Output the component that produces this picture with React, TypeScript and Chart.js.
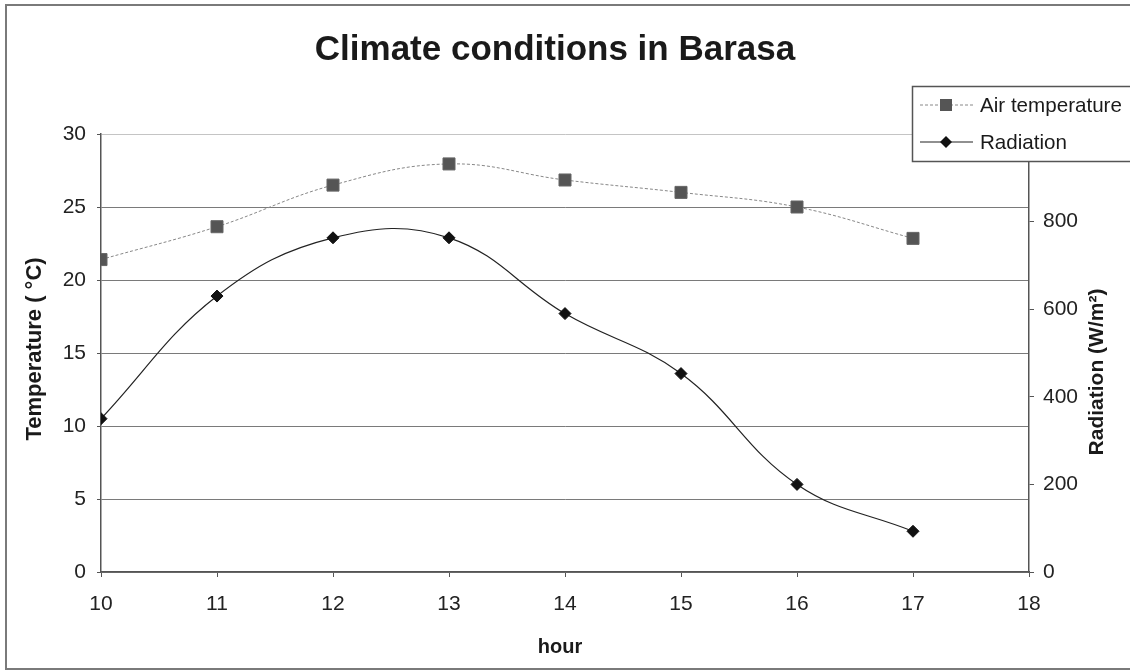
import React, { useEffect, useRef } from 'react';
import { Chart, registerables } from 'chart.js';

Chart.register(...registerables);

const hours = [10, 11, 12, 13, 14, 15, 16, 17];
const airTemperature = [21.4, 23.65, 26.5, 27.95, 26.85, 26.0, 25.0, 22.85];
const radiation = [350, 630, 763, 763, 590, 453, 200, 93];

const titleText = 'Climate conditions in Barasa';
const xTitle = 'hour';
const yLeftTitle = 'Temperature ( °C)';
const yRightTitle = 'Radiation (W/m²)';
const seriesNames = ['Air temperature', 'Radiation'];

const FONT = "'Liberation Sans', Arial, Helvetica, sans-serif";

const decorPlugin = {
  id: 'decor',
  beforeDraw(chart: any) {
    const ctx = chart.ctx;
    ctx.save();
    ctx.fillStyle = '#ffffff';
    ctx.fillRect(0, 0, chart.width, chart.height);
    ctx.strokeStyle = '#7a7a7a';
    ctx.lineWidth = 2;
    ctx.strokeRect(6, 5, chart.width + 10, 664);
    ctx.restore();
  },
  afterDraw(chart: any) {
    const ctx = chart.ctx;
    ctx.save();
    ctx.fillStyle = '#1a1a1a';
    ctx.textAlign = 'center';
    ctx.textBaseline = 'middle';
    // Title
    ctx.font = `bold 35px ${FONT}`;
    ctx.fillText(titleText, 555, 50);
    // x title
    ctx.font = `bold 20px ${FONT}`;
    ctx.fillText(xTitle, 560, 647);
    // left y title
    ctx.save();
    ctx.translate(35, 349);
    ctx.rotate(-Math.PI / 2);
    ctx.font = `bold 22px ${FONT}`;
    ctx.fillText(yLeftTitle, 0, 0);
    ctx.restore();
    // right y title
    ctx.save();
    ctx.translate(1097, 372);
    ctx.rotate(-Math.PI / 2);
    ctx.font = `bold 21px ${FONT}`;
    ctx.fillText(yRightTitle, 0, 0);
    ctx.restore();

    // Legend
    const bx = 912, by = 86, bw = 240, bh = 75;
    ctx.fillStyle = '#ffffff';
    ctx.fillRect(bx, by, bw, bh);
    ctx.strokeStyle = '#555';
    ctx.lineWidth = 1.5;
    ctx.strokeRect(bx + 0.5, by + 0.5, bw, bh);
    const rows = [105, 142];
    // row 1: air temperature
    ctx.strokeStyle = '#888';
    ctx.lineWidth = 1;
    ctx.setLineDash([3, 2]);
    ctx.beginPath();
    ctx.moveTo(920, rows[0]);
    ctx.lineTo(973, rows[0]);
    ctx.stroke();
    ctx.setLineDash([]);
    ctx.fillStyle = '#555';
    ctx.fillRect(940, rows[0] - 6, 12, 12);
    // row 2: radiation
    ctx.strokeStyle = '#222';
    ctx.lineWidth = 1.2;
    ctx.beginPath();
    ctx.moveTo(920, rows[1]);
    ctx.lineTo(973, rows[1]);
    ctx.stroke();
    ctx.fillStyle = '#111';
    ctx.beginPath();
    ctx.moveTo(946, rows[1] - 6);
    ctx.lineTo(952, rows[1]);
    ctx.lineTo(946, rows[1] + 6);
    ctx.lineTo(940, rows[1]);
    ctx.closePath();
    ctx.fill();
    ctx.fillStyle = '#1a1a1a';
    ctx.font = `20.6px ${FONT}`;
    ctx.textAlign = 'left';
    ctx.textBaseline = 'middle';
    ctx.fillText(seriesNames[0], 980, rows[0] + 1);
    ctx.fillText(seriesNames[1], 980, rows[1] + 1);
    ctx.restore();
  },
};

export default function App() {
  const canvasRef = useRef<HTMLCanvasElement | null>(null);

  useEffect(() => {
    const canvas = canvasRef.current;
    if (!canvas) return;
    const tickFont = { family: FONT, size: 21 };
    const chart = new Chart(canvas, {
      type: 'line',
      data: {
        datasets: [
          {
            label: seriesNames[0],
            data: hours.map((h, i) => ({ x: h, y: airTemperature[i] })),
            yAxisID: 'y',
            borderColor: '#888',
            borderWidth: 1,
            borderDash: [3, 2],
            pointStyle: 'rect',
            pointRadius: 8.5,
            pointBackgroundColor: '#555',
            pointBorderColor: '#666',
            pointBorderWidth: 1,
            tension: 0.4,
            fill: false,
          },
          {
            label: seriesNames[1],
            data: hours.map((h, i) => ({ x: h, y: radiation[i] })),
            yAxisID: 'y1',
            borderColor: '#222',
            borderWidth: 1.2,
            pointStyle: 'rectRot',
            pointRadius: 6,
            pointBackgroundColor: '#111',
            pointBorderColor: '#111',
            pointBorderWidth: 1,
            tension: 0.4,
            fill: false,
          },
        ],
      },
      options: {
        responsive: false,
        animation: false,
        events: [],
        layout: { padding: { top: 134, left: 0, right: 0, bottom: 0 } },
        plugins: {
          legend: { display: false },
          title: { display: false },
          tooltip: { enabled: false },
        },
        scales: {
          x: {
            type: 'linear',
            position: 'bottom',
            min: 10,
            max: 18,
            ticks: { stepSize: 1, font: tickFont, color: '#222', padding: 15, maxRotation: 0 },
            grid: { display: true, drawOnChartArea: false, drawTicks: true, tickLength: 5, color: '#555', tickColor: '#555' },
            border: { display: true, color: '#555', width: 1.5 },
            afterFit: (scale: any) => { scale.height = 100; },
          },
          y: {
            type: 'linear',
            position: 'left',
            min: 0,
            max: 30,
            ticks: { stepSize: 5, font: tickFont, color: '#222', padding: 11 },
            grid: {
              display: true,
              drawOnChartArea: true,
              drawTicks: true,
              tickLength: 4,
              color: (c: any) => (c.tick && c.tick.value === 30 ? '#c4c4c4' : '#7a7a7a'),
              tickColor: '#555',
              lineWidth: 1,
            },
            border: { display: true, color: '#555', width: 1.5 },
            afterFit: (scale: any) => { scale.width = 101; },
          },
          y1: {
            type: 'linear',
            position: 'right',
            min: 0,
            max: 1000,
            ticks: { stepSize: 200, font: tickFont, color: '#222', padding: 9 },
            grid: { display: true, drawOnChartArea: false, drawTicks: true, tickLength: 5, color: '#555', tickColor: '#555' },
            border: { display: true, color: '#555', width: 1.5 },
            afterFit: (scale: any) => { scale.width = 101; },
          },
        },
      },
      plugins: [decorPlugin],
    });
    return () => chart.destroy();
  }, []);

  return (
    <div style={{ position: 'absolute', left: 0, top: 0, width: 1130, height: 672, background: '#fff' }}>
      <canvas ref={canvasRef} width={1130} height={672} style={{ display: 'block', width: 1130, height: 672 }} />
    </div>
  );
}
